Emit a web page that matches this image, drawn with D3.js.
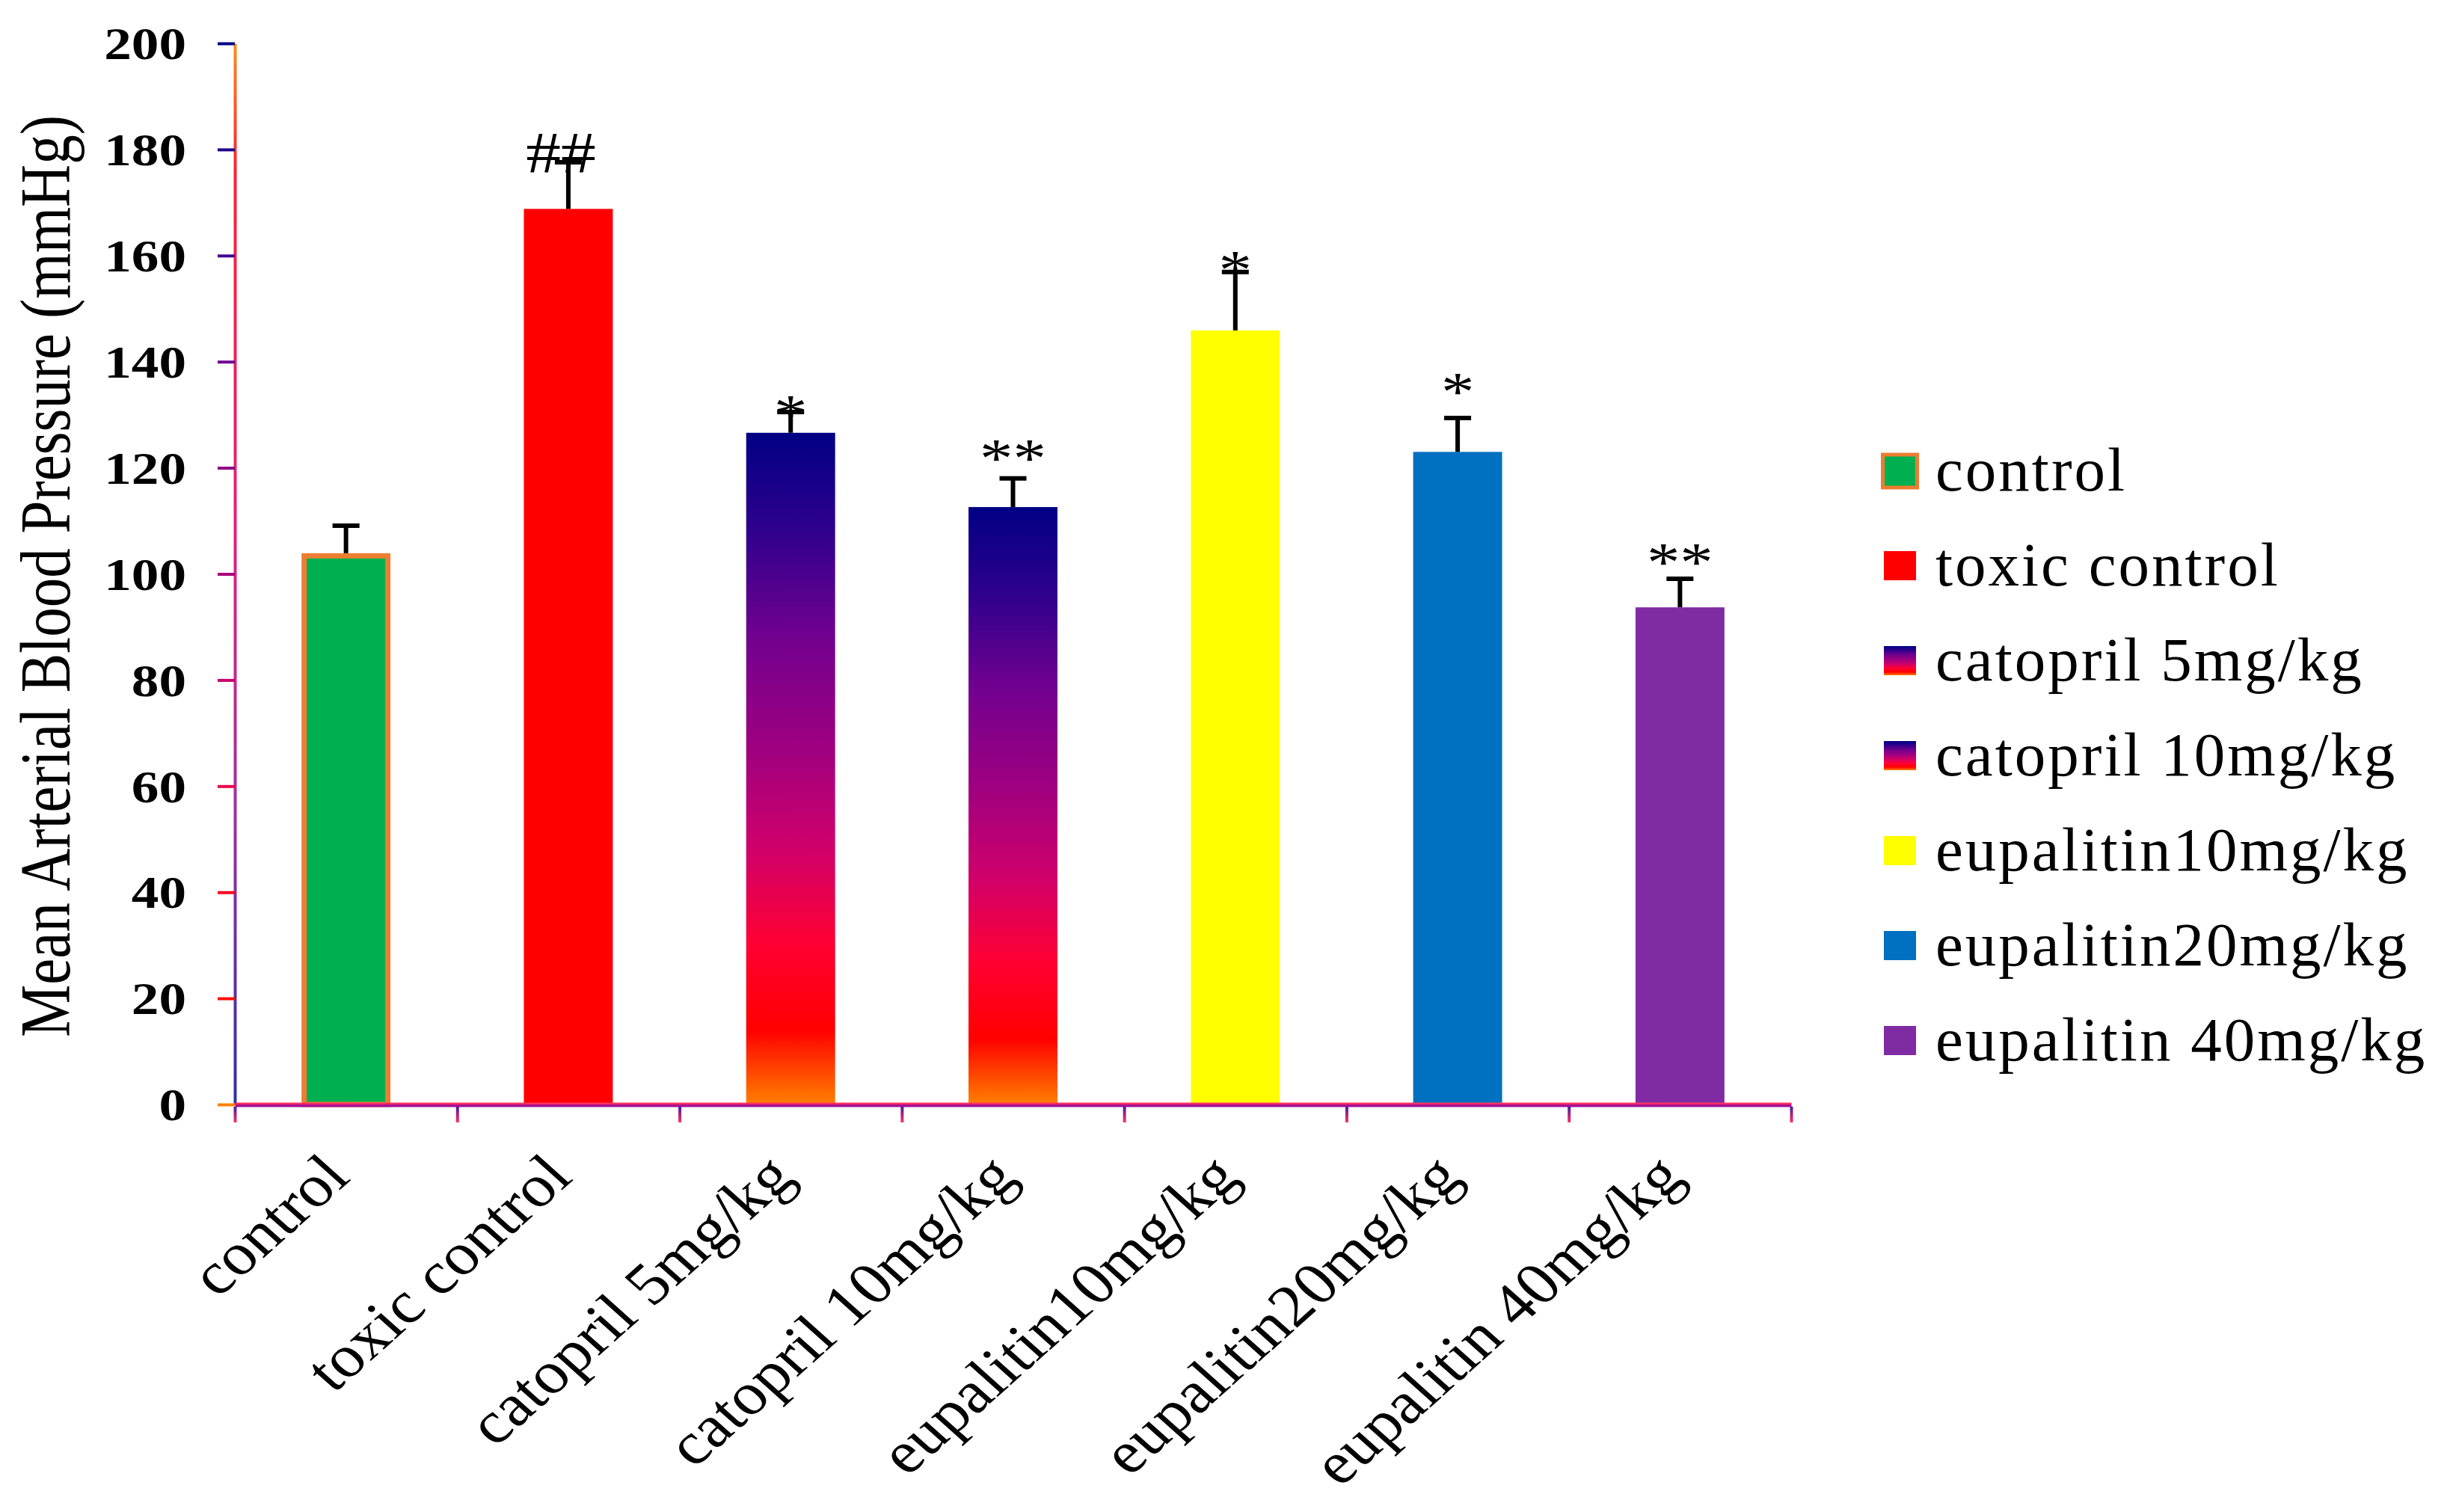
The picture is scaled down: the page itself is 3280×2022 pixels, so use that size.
<!DOCTYPE html>
<html>
<head>
<meta charset="utf-8">
<script src="https://cdn.jsdelivr.net/npm/d3@7/dist/d3.min.js"></script>
<style>
  html, body { margin: 0; padding: 0; background: #fff; }
  svg { display: block; }
  text { font-family: "Liberation Serif", "Times New Roman", serif; fill: #000; }
</style>
</head>
<body>
<svg id="chart" width="3280" height="2022"></svg>
<script>
// ---------------- data ----------------
const categories = ["control", "toxic control", "catopril 5mg/kg", "catopril 10mg/kg",
                    "eupalitin10mg/kg", "eupalitin20mg/kg", "eupalitin 40mg/kg"];
const legendLabels = ["control", "toxic control", "catopril  5mg/kg", "catopril  10mg/kg",
                      "eupalitin10mg/kg", "eupalitin20mg/kg", "eupalitin 40mg/kg"];
const meanValues = [103.9, 168.8, 126.6, 112.6, 145.9, 123.0, 93.7];
const errorValues = [5.2, 8.8, 3.9, 5.4, 11.0, 6.4, 5.4];
const significance = ["", "##", "*", "**", "*", "*", "**"];
const significanceLevel = [null, 175.8, 126.5, 118.3, 153.8, 130.8, 98.6];
const yTickValues = [0, 20, 40, 60, 80, 100, 120, 140, 160, 180, 200];
const barFills = ["#00b050", "#ff0000", "url(#fire)", "url(#fire)", "#ffff00", "#0070c0", "#7f2ba4"];

// ---------------- layout ----------------
const plot = { left: 314, right: 2395, top: 58, bottom: 1477 };
const STRETCH = 1.2;
const LABEL_STRETCH = 1.12;

const svg = d3.select("#chart");
const defs = svg.append("defs");

const fireStops = [
  [0.00, "#000084"], [0.15, "#30008c"], [0.30, "#70008f"], [0.48, "#a2007e"],
  [0.62, "#d0006a"], [0.76, "#ff0033"], [0.89, "#ff0000"], [1.00, "#ff8000"]
];
const fire = defs.append("linearGradient").attr("id", "fire")
  .attr("x1", 0).attr("y1", 0).attr("x2", 0).attr("y2", 1);
fire.selectAll("stop").data(fireStops).join("stop")
  .attr("offset", d => d[0]).attr("stop-color", d => d[1]);
const fireScale = d3.scaleLinear().domain(fireStops.map(d => d[0])).range(fireStops.map(d => d[1]))
  .interpolate(d3.interpolateRgb);

const yAxisGrad = defs.append("linearGradient").attr("id", "yaxisgrad")
  .attr("gradientUnits", "userSpaceOnUse")
  .attr("x1", 0).attr("y1", plot.top).attr("x2", 0).attr("y2", plot.bottom);
[[0, "#ff8c1a"], [0.12, "#ff2030"], [0.45, "#e5207a"], [0.72, "#a030a0"], [1, "#3030a8"]]
  .forEach(s => yAxisGrad.append("stop").attr("offset", s[0]).attr("stop-color", s[1]));

const xAxisGrad = defs.append("linearGradient").attr("id", "xaxisgrad")
  .attr("gradientUnits", "userSpaceOnUse")
  .attr("x1", 0).attr("y1", -3).attr("x2", 0).attr("y2", 3);
[[0, "#ff3b6b"], [0.5, "#ff2a5a"], [0.5, "#b0108a"], [1, "#a0109a"]]
  .forEach(s => xAxisGrad.append("stop").attr("offset", s[0]).attr("stop-color", s[1]));

const xTickGrad = defs.append("linearGradient").attr("id", "xtickgrad")
  .attr("gradientUnits", "userSpaceOnUse")
  .attr("x1", 0).attr("y1", 3).attr("x2", 0).attr("y2", 24);
[[0, "#4a1aa0"], [1, "#ff3060"]]
  .forEach(s => xTickGrad.append("stop").attr("offset", s[0]).attr("stop-color", s[1]));

// ---------------- scales ----------------
const x = d3.scaleBand().domain(categories).range([plot.left, plot.right]).padding(0);
const y = d3.scaleLinear().domain([0, 200]).range([plot.bottom, plot.top]);
const barW = x.bandwidth() * 0.4;
const cx = c => x(c) + x.bandwidth() / 2;

// ---------------- bars ----------------
const gBars = svg.append("g");
gBars.selectAll("rect.bar").data(categories).join("rect")
  .attr("class", "bar")
  .attr("x", (c, i) => cx(c) - barW / 2 + (i === 0 ? 3.5 : 0))
  .attr("width", (c, i) => barW - (i === 0 ? 7 : 0))
  .attr("y", (c, i) => y(meanValues[i]) + (i === 0 ? 3.5 : 0))
  .attr("height", (c, i) => y(0) - y(meanValues[i]) - (i === 0 ? 3.5 : 0))
  .attr("fill", (c, i) => barFills[i])
  .attr("stroke", (c, i) => i === 0 ? "#ed7d31" : "none")
  .attr("stroke-width", 7);

// ---------------- error bars ----------------
const gErr = svg.append("g").attr("stroke", "#000").attr("stroke-width", 6);
gErr.selectAll("line.stem").data(categories).join("line")
  .attr("x1", c => cx(c)).attr("x2", c => cx(c))
  .attr("y1", (c, i) => y(meanValues[i]))
  .attr("y2", (c, i) => y(meanValues[i] + errorValues[i]));
gErr.selectAll("line.cap").data(categories).join("line")
  .attr("x1", c => cx(c) - 18).attr("x2", c => cx(c) + 18)
  .attr("y1", (c, i) => y(meanValues[i] + errorValues[i]))
  .attr("y2", (c, i) => y(meanValues[i] + errorValues[i]));

// ---------------- significance marks ----------------
svg.append("g").selectAll("text").data(categories).join("text")
  .filter((c, i) => significance[i] !== "")
  .attr("transform", c => {
    const i = categories.indexOf(c);
    const dx = significance[i] === "##" ? -10 : 0;
    return `translate(${cx(c) + dx},${y(significanceLevel[i])}) scale(${STRETCH},1)`;
  })
  .attr("text-anchor", "middle")
  .style("font-size", c => significance[categories.indexOf(c)] === "##" ? "78px" : "74px")
  .text(c => significance[categories.indexOf(c)]);

// ---------------- y axis ----------------
const yAxis = d3.axisLeft(y).tickValues(yTickValues).tickSize(23).tickSizeOuter(0).tickPadding(0);
const gy = svg.append("g").attr("transform", `translate(${plot.left},0)`).call(yAxis);
gy.select(".domain").attr("stroke", "url(#yaxisgrad)").attr("stroke-width", 4);
gy.selectAll(".tick line").attr("stroke", d => fireScale(1 - d / 200)).attr("stroke-width", 4);
gy.selectAll(".tick text")
  .attr("x", 0).attr("dy", "0.34em")
  .attr("transform", `translate(-65,0) scale(${STRETCH},1)`)
  .style("font-size", "61px").style("font-weight", "bold")
  .style("font-family", "'Liberation Serif', 'Times New Roman', serif")
  .attr("fill", "#000");

// ---------------- x axis (band edges) ----------------
const edge = d3.scaleLinear().domain([0, categories.length]).range([plot.left, plot.right]);
const xAxis = d3.axisBottom(edge).tickValues(d3.range(categories.length + 1))
  .tickSize(24).tickSizeOuter(0).tickFormat("");
const gx = svg.append("g").attr("transform", `translate(0,${plot.bottom})`).call(xAxis);
gx.select(".domain").attr("stroke", "url(#xaxisgrad)").attr("stroke-width", 6);
gx.selectAll(".tick line").attr("stroke", "url(#xtickgrad)").attr("stroke-width", 4).attr("y1", 3);

// x labels
svg.append("g").selectAll("text").data(categories).join("text")
  .attr("transform", c => `translate(${cx(c) + 8},${plot.bottom + 100}) scale(${LABEL_STRETCH},1) rotate(-45)`)
  .attr("text-anchor", "end")
  .style("font-size", "80px")
  .text(c => c);

// y title
svg.append("text")
  .attr("transform", `translate(93,${(plot.top + plot.bottom) / 2 + 3}) scale(${STRETCH},1) rotate(-90)`)
  .attr("text-anchor", "middle")
  .style("font-size", "79px")
  .text("Mean Arterial Blood Pressure (mmHg)");

// ---------------- legend ----------------
const legend = svg.append("g").attr("transform", "translate(2519,656)");
const rowH = 127;
const items = legend.selectAll("g").data(legendLabels).join("g")
  .attr("transform", (d, i) => `translate(0,${i * rowH})`);
items.append("rect")
  .attr("x", (d, i) => i === 0 ? -1.5 : 0)
  .attr("y", (d, i) => i === 0 ? -48 : -46)
  .attr("width", (d, i) => i === 0 ? 46 : 43)
  .attr("height", (d, i) => i === 0 ? 44 : 39)
  .attr("fill", (d, i) => barFills[i])
  .attr("stroke", (d, i) => i === 0 ? "#ed7d31" : "none")
  .attr("stroke-width", 5);
items.append("text")
  .attr("x", 69).attr("y", 0)
  .style("font-size", "83px")
  .style("letter-spacing", "3px")
  .text(d => d);
</script>
</body>
</html>
